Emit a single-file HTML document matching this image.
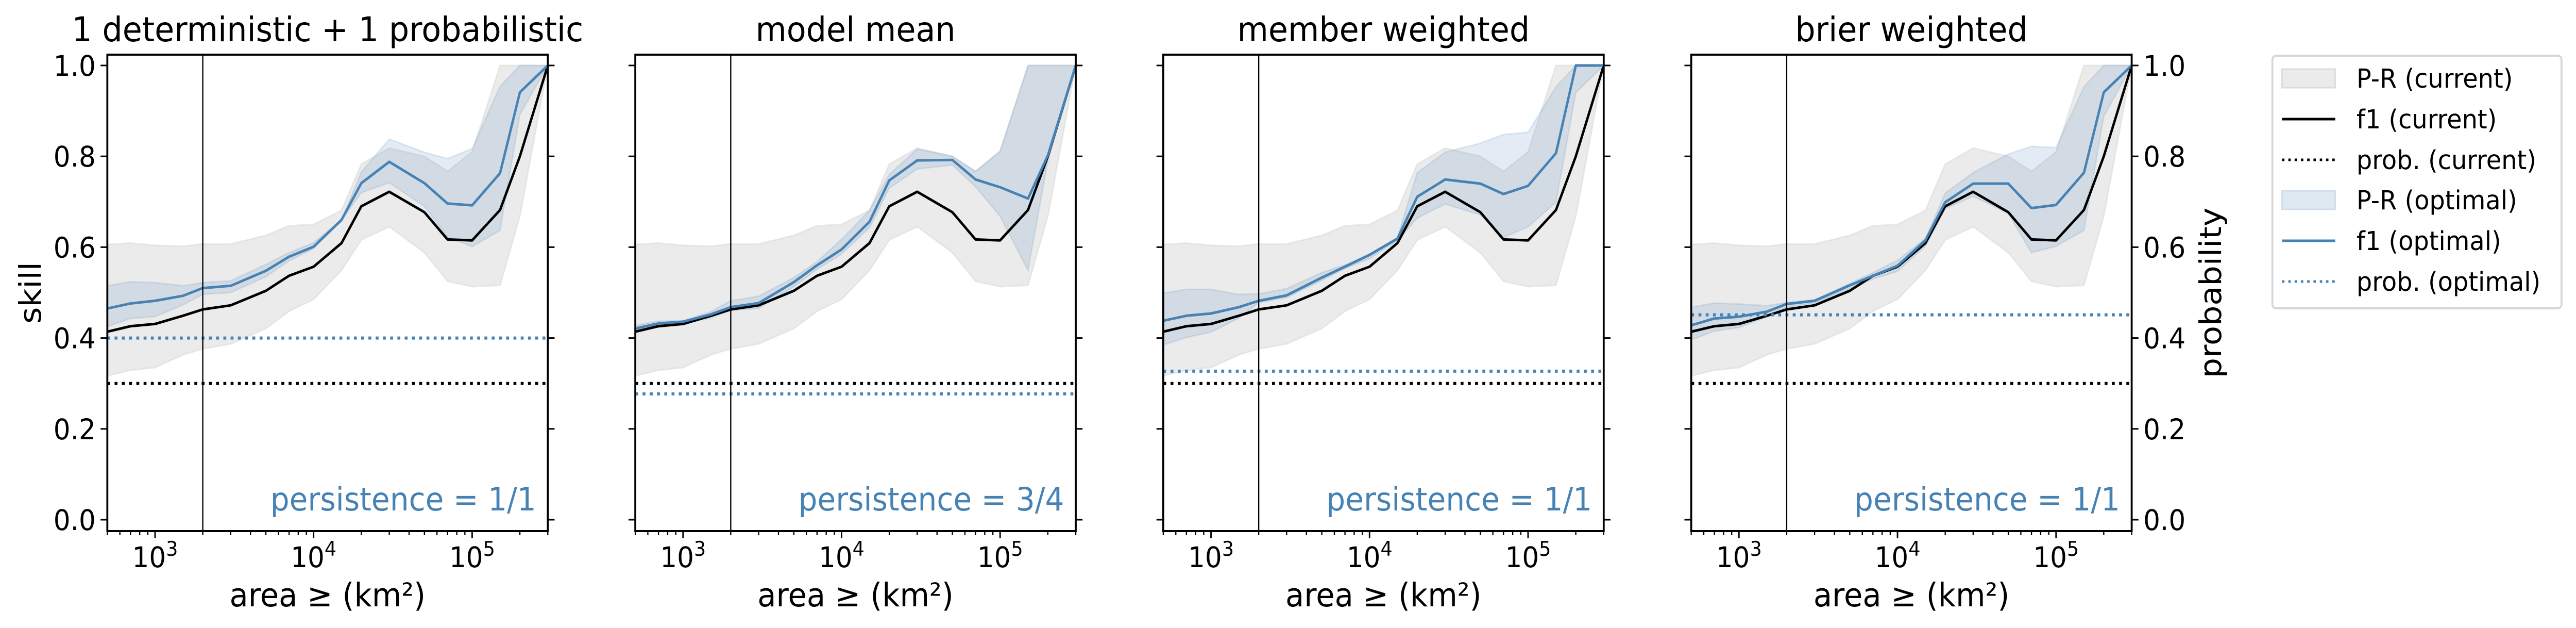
<!DOCTYPE html>
<html><head><meta charset="utf-8">
<style>
html,body{margin:0;padding:0;background:#fff;width:100%;height:100%;overflow:hidden;}
svg{display:block;width:100vw;height:100vh;font-family:"DejaVu Sans","Liberation Sans",sans-serif;}
</style></head>
<body>
<svg id="chart" viewBox="0 0 5328 1218" preserveAspectRatio="none" xmlns="http://www.w3.org/2000/svg">
<g id="panels"></g>
<g id="legend">
  <rect x="4700" y="108" width="598" height="490" rx="8" fill="#fff" stroke="#d6d6d6" stroke-width="4"/>
  <rect x="4720" y="134" width="110" height="36" fill="#ebebeb" stroke="#dcdcdc" stroke-width="3"/>
  <text x="4874" y="170" font-size="51">P-R (current)</text>
  <line x1="4720" y1="231" x2="4830" y2="231" stroke="#000" stroke-width="5"/>
  <text x="4874" y="249" font-size="51">f1 (current)</text>
  <line x1="4720" y1="310" x2="4830" y2="310" stroke="#000" stroke-width="5" stroke-dasharray="5 8"/>
  <text x="4874" y="328" font-size="51">prob. (current)</text>
  <rect x="4720" y="370" width="110" height="36" fill="#dfe9f2" stroke="#d2dde8" stroke-width="3"/>
  <text x="4874" y="406" font-size="51">P-R (optimal)</text>
  <line x1="4720" y1="467" x2="4830" y2="467" stroke="#4682b4" stroke-width="5"/>
  <text x="4874" y="485" font-size="51">f1 (optimal)</text>
  <line x1="4720" y1="546" x2="4830" y2="546" stroke="#4682b4" stroke-width="5" stroke-dasharray="5 8"/>
  <text x="4874" y="564" font-size="51">prob. (optimal)</text>
</g>
</svg>
<script>
const areas = [500,700,1000,1500,2000,3000,5000,7000,1e4,1.5e4,2e4,3e4,5e4,7e4,1e5,1.5e5,2e5,3e5];
const titles = ["1 deterministic + 1 probabilistic","model mean","member weighted","brier weighted"];
const persistence = ["persistence = 1/1","persistence = 3/4","persistence = 1/1","persistence = 1/1"];
const yTicks = [0,0.2,0.4,0.6,0.8,1.0];
const yTickLabels = ["0.0","0.2","0.4","0.6","0.8","1.0"];
const xMajor = [1e3,1e4,1e5];
const xMajorExp = ["3","4","5"];
const cutoffArea = 2000;
const probCurrent = [0.3,0.3,0.3,0.3];
const probOptimal = [0.4,0.277,0.327,0.451];
const f1Current = [0.414,0.426,0.431,0.449,0.463,0.472,0.504,0.537,0.557,0.609,0.69,0.722,0.677,0.617,0.615,0.682,0.80,1.0];
const prCurrentHi = [0.606,0.609,0.604,0.602,0.607,0.607,0.626,0.647,0.65,0.681,0.783,0.818,0.80,0.767,0.81,1,1,1];
const prCurrentLo = [0.317,0.329,0.335,0.363,0.376,0.387,0.421,0.459,0.485,0.549,0.616,0.645,0.588,0.525,0.513,0.516,0.668,1];
const f1Optimal1 = [0.465,0.476,0.482,0.493,0.51,0.515,0.548,0.579,0.601,0.66,0.741,0.788,0.741,0.696,0.692,0.763,0.941,1.0];
const prOptHi1 = [0.515,0.524,0.522,0.515,0.522,0.526,0.562,0.588,0.61,0.66,0.765,0.838,0.809,0.795,0.817,0.954,1,1];
const prOptLo1 = [0.425,0.443,0.447,0.473,0.496,0.5,0.535,0.57,0.597,0.659,0.72,0.742,0.69,0.623,0.601,0.637,0.892,1];
const f1Optimal2 = [0.421,0.432,0.436,0.452,0.468,0.477,0.523,0.56,0.595,0.656,0.747,0.791,0.792,0.749,0.732,0.707,0.802,1.0];
const prOptHi2 = [0.428,0.437,0.438,0.458,0.482,0.492,0.533,0.568,0.617,0.681,0.76,0.816,0.80,0.767,0.812,1,1,1];
const prOptLo2 = [0.416,0.428,0.432,0.444,0.461,0.465,0.513,0.551,0.585,0.643,0.73,0.772,0.781,0.733,0.668,0.549,0.79,1];
const f1Optimal3 = [0.438,0.449,0.454,0.468,0.482,0.494,0.533,0.557,0.583,0.619,0.711,0.749,0.74,0.717,0.735,0.807,1,1];
const prOptHi3 = [0.499,0.507,0.507,0.496,0.497,0.509,0.544,0.561,0.585,0.621,0.764,0.809,0.829,0.848,0.853,0.953,1,1];
const prOptLo3 = [0.385,0.401,0.413,0.444,0.478,0.489,0.527,0.553,0.575,0.615,0.664,0.695,0.671,0.621,0.645,0.699,0.94,1];
const f1Optimal4 = [0.428,0.443,0.447,0.458,0.475,0.482,0.516,0.537,0.559,0.615,0.699,0.74,0.74,0.686,0.693,0.764,0.941,1.0];
const prOptHi4 = [0.468,0.477,0.475,0.471,0.478,0.484,0.52,0.544,0.571,0.619,0.719,0.764,0.805,0.822,0.819,0.953,1,1];
const prOptLo4 = [0.396,0.415,0.423,0.447,0.468,0.477,0.509,0.53,0.547,0.602,0.685,0.712,0.674,0.588,0.602,0.637,0.888,1];

const f1Opt = [f1Optimal1,f1Optimal2,f1Optimal3,f1Optimal4];
const optHi = [prOptHi1,prOptHi2,prOptHi3,prOptHi4];
const optLo = [prOptLo1,prOptLo2,prOptLo3,prOptLo4];

const NS = "http://www.w3.org/2000/svg";
const panelLefts = [222,1314,2406,3498];
const PW = 911, TOP = 106, BOT = 1030, Y0 = 1008, Y1 = 127;
const XMIN = Math.log10(500), XMAX = Math.log10(3e5);
function mk(tag, attrs, parent){const e=document.createElementNS(NS,tag);for(const k in attrs)e.setAttribute(k,attrs[k]);parent.appendChild(e);return e;}
const root = document.getElementById('panels');

for (let p=0;p<4;p++){
  const L = panelLefts[p], R = L+PW;
  const xs = v => L + (Math.log10(v)-XMIN)/(XMAX-XMIN)*PW;
  const ys = v => Y0 - v*(Y0-Y1);
  const g = mk('g',{},root);
  
  
  const cp = mk('clipPath',{id:'clip'+p},g);
  mk('rect',{x:L,y:TOP,width:PW,height:BOT-TOP},cp);
  const plot = mk('g',{'clip-path':'url(#clip'+p+')'},g);
  const band = (hi,lo,fill,op,name)=>{
    let d='M'+areas.map((a,i)=>xs(a).toFixed(1)+','+ys(hi[i]).toFixed(1)).join('L');
    for(let i=areas.length-1;i>=0;i--) d+='L'+xs(areas[i]).toFixed(1)+','+ys(lo[i]).toFixed(1);
    d+='Z';
    const e = mk('path',{d:d,fill:fill,'fill-opacity':op,stroke:fill,'stroke-opacity':op,'stroke-width':3},plot);
    
    
  };
  band(prCurrentHi,prCurrentLo,'#d3d3d3',0.45,'pr-band-current');
  band(optHi[p],optLo[p],'#4682b4',0.15,'pr-band-optimal');
  const line = (vals,col,name)=>{
    const e = mk('polyline',{points:areas.map((a,i)=>xs(a).toFixed(1)+','+ys(vals[i]).toFixed(1)).join(' '),fill:'none',stroke:col,'stroke-width':5,'stroke-linejoin':'round'},plot);
    
    
  };
  line(f1Current,'#000','f1-line-current');
  line(f1Opt[p],'#4682b4','f1-line-optimal');
  const hl = (v,col,name)=>{
    const e = mk('line',{x1:L,x2:R,y1:ys(v),y2:ys(v),stroke:col,'stroke-width':6,'stroke-dasharray':'6 9'},plot);
    
    
  };
  hl(probCurrent[p],'#000','prob-line-current');
  hl(probOptimal[p],'#4682b4','prob-line-optimal');
  const vl = mk('line',{x1:xs(cutoffArea),x2:xs(cutoffArea),y1:TOP,y2:BOT,stroke:'#000','stroke-width':2.5},plot);
  
  
  const fr = mk('rect',{x:L,y:TOP,width:PW,height:BOT-TOP,fill:'none',stroke:'#000','stroke-width':4},g);
  
  
  yTicks.forEach((t,i)=>{
    mk('line',{x1:L-14,x2:L,y1:ys(t),y2:ys(t),stroke:'#000','stroke-width':3},g);
    mk('line',{x1:R,x2:R+14,y1:ys(t),y2:ys(t),stroke:'#000','stroke-width':3},g);
    if(p===0){const e=mk('text',{x:L-24,y:ys(t)+20,'font-size':55,'text-anchor':'end'},g);e.textContent=yTickLabels[i];
      
      }
    if(p===3){const e=mk('text',{x:R+24,y:ys(t)+20,'font-size':55,'text-anchor':'start'},g);e.textContent=yTickLabels[i];
      
      }
  });
  for(let dec=2;dec<=5;dec++){
    for(let m=1;m<=9;m++){
      const v=m*Math.pow(10,dec);
      if(v<500||v>3e5) continue;
      const x=xs(v);
      mk('line',{x1:x,x2:x,y1:BOT,y2:BOT+(m===1?14:8),stroke:'#000','stroke-width':m===1?3:2.5},g);
    }
  }
  xMajor.forEach((v,i)=>{
    const e=mk('text',{x:xs(v),y:1100,'font-size':55,'text-anchor':'middle'},g);
    
    
    e.innerHTML='10<tspan dy="-22" font-size="39">'+xMajorExp[i]+'</tspan>';
  });
  const xl=mk('text',{x:L+PW/2,y:1176,'font-size':63,'text-anchor':'middle'},g);
  xl.textContent='area ≥ (km²)';
  
  
  const tt=mk('text',{x:L+PW/2,y:80,'font-size':66,'text-anchor':'middle'},g);
  tt.textContent=titles[p];
  
  
  const ps=mk('text',{x:R-24,y:990,'font-size':62,'text-anchor':'end',fill:'#4682b4'},g);
  ps.textContent=persistence[p];
  
  
}
const svg=document.getElementById('chart');
const yl=mk('text',{x:0,y:0,'font-size':62,'text-anchor':'middle',transform:'translate(84,568) rotate(-90)'},svg);
yl.textContent='skill';


const yr=mk('text',{x:0,y:0,'font-size':62,'text-anchor':'middle',transform:'translate(4594,568) rotate(-90)'},svg);
yr.textContent='probability';


</script>
</body></html>
